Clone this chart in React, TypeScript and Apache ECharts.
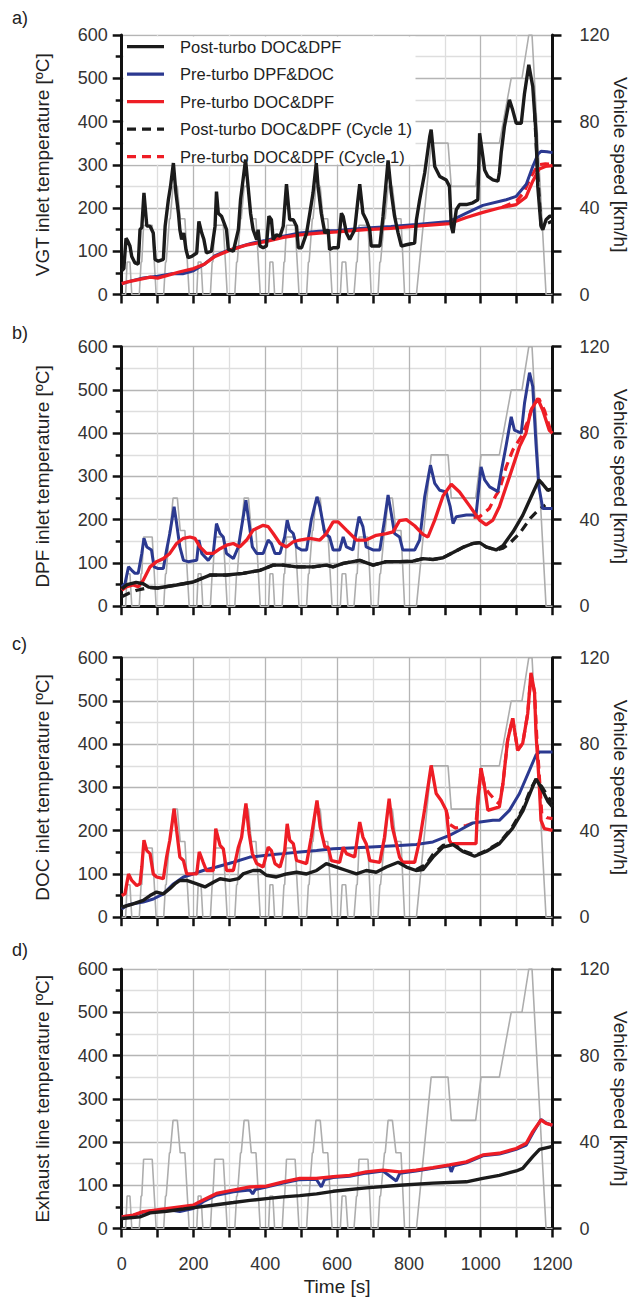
import React, { useEffect, useRef } from 'react';
import * as echarts from 'echarts';

const FONT = '"Liberation Sans", Arial, Helvetica, sans-serif';

// ---------- Vehicle speed (km/h) ----------
const speed: number[][] = [
  [0, 0], [11, 0], [15, 15], [23, 15], [28, 0], [49, 0], [54, 15], [56, 15], [61, 32], [85, 32], [96, 0],
  [117, 0], [122, 15], [124, 15], [133, 35], [135, 35], [143, 50], [155, 50], [163, 35], [176, 35], [188, 0],
  [209, 0], [213, 15], [221, 15], [226, 0], [247, 0], [252, 15], [254, 15], [259, 32], [283, 32], [294, 0],
  [315, 0], [320, 15], [322, 15], [331, 35], [333, 35], [341, 50], [353, 50], [361, 35], [374, 35], [386, 0],
  [409, 0], [413, 15], [421, 15], [426, 0], [447, 0], [452, 15], [454, 15], [459, 32], [483, 32], [494, 0],
  [515, 0], [520, 15], [522, 15], [531, 35], [533, 35], [541, 50], [553, 50], [561, 35], [574, 35], [586, 0],
  [609, 0], [614, 15], [624, 15], [630, 0], [647, 0], [654, 15], [656, 15], [661, 32], [686, 32], [695, 0],
  [714, 0], [719, 15], [721, 15], [732, 35], [734, 35], [742, 50], [754, 50], [764, 35], [778, 35], [788, 0],
  [821, 0], [862, 70], [909, 70], [918, 50], [986, 50], [1001, 70], [1052, 70], [1085, 100], [1115, 100],
  [1134, 120], [1143, 120], [1182, 0], [1200, 0],
];

// ---------- Panel a: VGT inlet ----------
const aPost: number[][] = [
  [0, 55], [6, 60], [12, 130], [16, 125], [23, 112], [28, 88], [37, 73], [46, 70], [51, 150], [56, 155], [62, 235],
  [70, 158], [79, 158], [88, 142], [93, 81], [102, 77], [116, 81], [121, 158], [130, 219], [136, 250], [144, 304],
  [151, 235], [158, 188], [162, 150], [167, 127], [173, 142], [179, 104], [185, 85], [195, 88], [209, 96], [215, 169],
  [223, 142], [229, 127], [236, 96], [250, 100], [260, 158], [264, 238], [269, 188], [278, 181], [292, 150], [297, 104],
  [311, 100], [325, 150], [331, 219], [338, 265], [345, 312], [352, 250], [359, 188], [366, 150], [376, 127], [380, 150],
  [385, 112], [394, 108], [403, 112], [410, 181], [417, 173], [422, 127], [431, 138], [441, 135], [450, 158], [459, 255],
  [468, 173], [478, 173], [487, 158], [492, 108], [501, 108], [515, 142], [524, 188], [533, 235], [542, 304], [547, 250],
  [556, 188], [566, 142], [575, 150], [579, 104], [589, 108], [603, 108], [612, 188], [617, 180], [626, 142], [635, 127],
  [649, 150], [658, 219], [663, 255], [672, 188], [681, 173], [691, 150], [695, 112], [719, 112], [728, 181], [742, 310],
  [751, 235], [760, 181], [770, 142], [779, 112], [793, 115], [816, 119], [821, 173], [830, 219], [844, 281], [858, 365],
  [862, 381], [872, 296], [886, 273], [904, 265], [913, 250], [918, 158], [923, 142], [932, 196], [941, 208], [960, 208],
  [978, 212], [992, 219], [997, 373], [1006, 319], [1011, 288], [1020, 273], [1034, 265], [1048, 262], [1052, 281],
  [1057, 327], [1066, 388], [1080, 450], [1089, 427], [1099, 396], [1113, 396], [1122, 465], [1134, 531], [1145, 481],
  [1154, 373], [1159, 250], [1168, 158], [1173, 150], [1182, 173], [1192, 181], [1200, 181],
];
const aDpfDoc: number[][] = [
  [0, 25], [30, 32], [60, 38], [100, 42], [140, 48], [170, 48], [200, 55], [230, 70], [260, 90], [290, 100], [320, 108],
  [360, 118], [400, 125], [450, 135], [496, 142], [550, 146], [600, 148], [681, 154], [750, 157], [821, 162], [913, 169],
  [960, 188], [1006, 206], [1071, 219], [1099, 227], [1127, 255], [1145, 296], [1160, 325], [1168, 331], [1185, 330],
  [1200, 328],
];
const aDocDpf: number[][] = [
  [0, 25], [20, 30], [50, 35], [80, 40], [100, 38], [130, 45], [160, 52], [200, 60], [230, 70], [260, 88], [300, 102],
  [350, 115], [400, 122], [450, 132], [496, 138], [550, 142], [600, 145], [681, 150], [750, 153], [821, 158], [913, 164],
  [960, 178], [1006, 190], [1052, 200], [1099, 208], [1126, 225], [1145, 262], [1163, 290], [1180, 296], [1200, 298],
];
const aPost1: number[][] = [[1150, 420], [1160, 262], [1168, 160], [1180, 162], [1200, 170]];
const aDocDpf1: number[][] = [
  [1060, 202], [1100, 216], [1120, 236], [1140, 272], [1160, 300], [1180, 302], [1200, 301],
];

// ---------- Panel b: DPF inlet ----------
const bPost: number[][] = [
  [0, 40], [15, 50], [40, 55], [60, 52], [75, 44], [100, 42], [153, 49], [199, 56], [246, 72], [292, 72], [338, 76],
  [385, 83], [422, 95], [450, 95], [487, 91], [533, 91], [570, 95], [589, 91], [617, 99], [663, 106], [700, 95],
  [737, 103], [774, 103], [811, 104], [839, 110], [867, 108], [895, 112], [923, 124], [950, 136], [978, 145], [997, 147],
  [1015, 137], [1043, 130], [1062, 140], [1090, 172], [1117, 210], [1145, 261], [1162, 292], [1173, 282], [1187, 268],
  [1200, 272],
];
const bDpfDoc: number[][] = [
  [0, 45], [9, 52], [19, 91], [28, 83], [37, 76], [46, 76], [56, 122], [62, 157], [70, 137], [83, 130], [90, 91],
  [102, 87], [116, 87], [125, 130], [134, 168], [146, 230], [153, 191], [162, 137], [172, 106], [185, 103], [209, 106],
  [215, 153], [223, 122], [241, 106], [255, 122], [264, 191], [274, 168], [283, 160], [292, 122], [311, 110], [325, 137],
  [331, 168], [346, 245], [355, 191], [364, 137], [376, 122], [394, 122], [408, 153], [417, 145], [427, 122], [441, 122],
  [454, 160], [461, 199], [468, 176], [478, 168], [487, 137], [501, 130], [515, 130], [528, 199], [544, 253], [552, 230],
  [566, 168], [579, 160], [589, 130], [607, 130], [617, 160], [626, 137], [644, 130], [661, 207], [672, 184], [681, 137],
  [700, 130], [719, 130], [732, 199], [742, 257], [751, 214], [760, 168], [774, 160], [783, 130], [816, 130], [830, 153],
  [844, 253], [860, 326], [872, 284], [886, 268], [904, 264], [915, 230], [923, 191], [932, 207], [960, 211], [987, 211],
  [1001, 322], [1011, 292], [1025, 276], [1048, 265], [1057, 310], [1071, 372], [1085, 438], [1094, 407], [1113, 400],
  [1122, 469], [1136, 540], [1145, 508], [1154, 376], [1162, 276], [1173, 226], [1200, 226],
];
const bDocDpf: number[][] = [
  [0, 37], [14, 45], [32, 49], [46, 45], [60, 60], [79, 91], [97, 103], [116, 110], [134, 122], [153, 145], [172, 157],
  [190, 160], [204, 157], [218, 137], [236, 122], [255, 122], [274, 133], [292, 141], [311, 145], [329, 137], [348, 153],
  [366, 176], [394, 187], [408, 184], [422, 168], [441, 145], [459, 137], [478, 149], [496, 153], [524, 157], [552, 153],
  [570, 168], [589, 195], [603, 195], [626, 176], [654, 153], [681, 153], [709, 164], [737, 168], [756, 172], [774, 198],
  [793, 200], [816, 186], [839, 166], [853, 160], [872, 199], [895, 255], [918, 282], [941, 264], [969, 232], [997, 199],
  [1015, 188], [1034, 199], [1052, 230], [1080, 299], [1108, 369], [1126, 400], [1140, 453], [1159, 480], [1173, 453],
  [1191, 407], [1200, 400],
];
const bPost1: number[][] = [
  [0, 22], [20, 30], [42, 37], [75, 43], [100, 42], [153, 49], [199, 56], [246, 72], [292, 72], [338, 76], [385, 83],
  [422, 95], [450, 95], [487, 91], [533, 91], [570, 95], [589, 91], [617, 99], [663, 106], [700, 95], [737, 103],
  [774, 103], [811, 104], [839, 110], [867, 108], [895, 112], [923, 124], [950, 136], [978, 145], [997, 147], [1015, 137],
  [1043, 130], [1062, 134], [1080, 145], [1108, 168], [1140, 205], [1160, 222], [1180, 234],
];
const bDocDpf1: number[][] = [
  [980, 205], [997, 207], [1024, 226], [1043, 257], [1052, 268], [1071, 322], [1090, 362], [1113, 392], [1130, 425],
  [1145, 462], [1162, 480], [1178, 452], [1195, 405],
];

// ---------- Panel c: DOC inlet ----------
const cPost: number[][] = [
  [0, 23], [32, 31], [60, 39], [79, 50], [97, 58], [116, 54], [134, 66], [148, 77], [162, 85], [181, 85], [209, 77],
  [232, 70], [255, 81], [274, 89], [301, 85], [325, 89], [338, 100], [366, 108], [385, 108], [403, 97], [431, 93],
  [459, 100], [487, 104], [515, 100], [543, 108], [570, 124], [598, 116], [626, 108], [654, 100], [681, 108], [709, 104],
  [737, 116], [770, 127], [793, 116], [820, 108], [839, 110], [867, 139], [895, 162], [923, 168], [950, 152], [983, 141],
  [1015, 152], [1052, 170], [1089, 206], [1117, 245], [1140, 292], [1154, 320], [1168, 300], [1187, 268], [1200, 255],
];
const cDpfDoc: number[][] = [
  [0, 19], [14, 27], [32, 31], [60, 35], [88, 42], [116, 54], [144, 77], [172, 93], [199, 100], [227, 108], [264, 116],
  [311, 127], [357, 139], [403, 143], [450, 147], [496, 151], [543, 154], [589, 158], [681, 162], [774, 166], [820, 168],
  [867, 174], [913, 189], [941, 201], [978, 218], [1034, 224], [1052, 224], [1080, 247], [1108, 286], [1136, 340],
  [1154, 375], [1164, 382], [1200, 382],
];
const cDocDpf: number[][] = [
  [0, 50], [9, 54], [19, 100], [28, 85], [42, 73], [51, 77], [56, 116], [62, 178], [70, 154], [79, 147], [88, 100],
  [97, 93], [116, 89], [125, 139], [134, 178], [146, 251], [153, 201], [162, 139], [172, 131], [181, 100], [209, 100],
  [216, 151], [227, 127], [236, 108], [255, 108], [262, 205], [274, 166], [283, 158], [292, 108], [311, 108], [325, 162],
  [334, 185], [346, 263], [355, 193], [364, 147], [376, 124], [394, 116], [408, 162], [417, 154], [427, 124], [441, 116],
  [454, 154], [461, 216], [468, 178], [478, 170], [487, 131], [515, 124], [528, 185], [544, 270], [553, 208], [566, 162],
  [575, 162], [584, 131], [607, 127], [617, 162], [626, 147], [649, 139], [663, 220], [672, 185], [681, 170], [691, 131],
  [719, 127], [732, 185], [745, 274], [754, 208], [765, 170], [774, 139], [783, 127], [816, 127], [830, 178], [844, 250],
  [862, 351], [876, 286], [890, 270], [904, 247], [913, 178], [918, 170], [960, 170], [987, 170], [992, 270], [1001, 344],
  [1011, 301], [1020, 247], [1052, 255], [1062, 309], [1075, 409], [1089, 460], [1103, 386], [1117, 402], [1131, 471],
  [1140, 565], [1150, 520], [1154, 425], [1163, 309], [1168, 224], [1177, 205], [1200, 201],
];
const cPost1: number[][] = [
  [820, 110], [848, 122], [867, 145], [895, 166], [923, 170], [950, 154], [987, 143], [1015, 154], [1052, 172],
  [1089, 210], [1117, 250], [1140, 298], [1154, 318], [1170, 302], [1190, 275], [1200, 265],
];
const cDocDpf1: number[][] = [
  [904, 247], [913, 215], [930, 206], [960, 212], [987, 220], [1001, 344], [1011, 300], [1024, 286], [1043, 268],
  [1052, 262], [1062, 309], [1075, 409], [1089, 460], [1103, 386], [1117, 402], [1131, 471], [1140, 560], [1150, 520],
  [1156, 420], [1163, 330], [1170, 240], [1185, 230], [1200, 228],
];

// ---------- Panel d: Exhaust line ----------
const dPost: number[][] = [
  [0, 23], [51, 27], [79, 36], [125, 40], [172, 45], [218, 50], [264, 55], [311, 60], [357, 65], [403, 69], [450, 73],
  [496, 76], [543, 80], [589, 86], [681, 94], [774, 100], [867, 105], [960, 108], [1006, 116], [1052, 123], [1099, 133],
  [1117, 139], [1145, 166], [1164, 183], [1200, 190],
];
const dDpfDoc: number[][] = [
  [0, 27], [32, 30], [60, 38], [88, 41], [125, 44], [162, 39], [199, 46], [227, 62], [264, 77], [311, 85], [357, 89],
  [365, 80], [372, 90], [403, 96], [450, 105], [496, 113], [542, 114], [556, 96], [565, 113], [589, 118], [635, 121],
  [681, 128], [728, 133], [765, 110], [775, 128], [820, 133], [867, 139], [913, 145], [918, 131], [925, 145], [960, 152],
  [1006, 168], [1052, 172], [1099, 183], [1127, 193], [1145, 220], [1168, 252], [1182, 244], [1200, 238],
];
const dDocDpf: number[][] = [
  [0, 27], [32, 31], [60, 39], [88, 42], [125, 46], [162, 50], [199, 54], [227, 66], [264, 81], [311, 89], [357, 96],
  [403, 98], [450, 108], [496, 116], [542, 116], [589, 120], [635, 123], [681, 131], [728, 135], [774, 131], [820, 135],
  [867, 141], [913, 147], [960, 154], [1006, 170], [1052, 174], [1099, 185], [1127, 197], [1145, 224], [1168, 251],
  [1182, 243], [1200, 239],
];

const NAMES = [
  'Post-turbo DOC&DPF',
  'Pre-turbo DPF&DOC',
  'Pre-turbo DOC&DPF',
  'Post-turbo DOC&DPF (Cycle 1)',
  'Pre-turbo DOC&DPF (Cycle 1)',
];
const PANEL_LABELS = ['a)', 'b)', 'c)', 'd)'];
const LEFT_NAMES = [
  'VGT inlet temperature [ºC]',
  'DPF inlet temperature [ºC]',
  'DOC inlet temperature [ºC]',
  'Exhaust line temperature [ºC]',
];
const RIGHT_NAME = 'Vehicle speed [km/h]';
const X_NAME = 'Time [s]';

const panels = [
  { post: aPost, dpfdoc: aDpfDoc, docdpf: aDocDpf, post1: aPost1, docdpf1: aDocDpf1 },
  { post: bPost, dpfdoc: bDpfDoc, docdpf: bDocDpf, post1: bPost1, docdpf1: bDocDpf1 },
  { post: cPost, dpfdoc: cDpfDoc, docdpf: cDocDpf, post1: cPost1, docdpf1: cDocDpf1 },
  { post: dPost, dpfdoc: dDpfDoc, docdpf: dDocDpf, post1: null, docdpf1: null },
];

const BLACK = '#1b1b1b';
const BLUE = '#2b3990';
const RED = '#ee1d25';
const GRAY = '#adadad';
const AXIS = '#111111';
const MAJOR_GRID = '#b5b5b5';
const MINOR_GRID = '#dedede';
const DASH = [9, 6];

const LEGEND_COLORS = [BLACK, BLUE, RED, BLACK, RED];
const LEGEND_DASHED = [false, false, false, true, true];

const GRID_TOPS = [35, 346.7, 657.7, 969];
const GRID_H = 259.5;
const GRID_LEFT = 121.7;
const GRID_RIGHTX = 552.5;
const LABEL_Y = [17.5, 333, 644, 950];

export default function App() {
  const ref = useRef<HTMLDivElement>(null);
  useEffect(() => {
    document.body.style.margin = '0';
    const chart = echarts.init(ref.current!, null, { renderer: 'svg' });

    const grid: any[] = [];
    const xAxis: any[] = [];
    const yAxis: any[] = [];
    const series: any[] = [];
    const graphic: any[] = [];

    panels.forEach((p, i) => {
      grid.push({
        left: GRID_LEFT,
        width: GRID_RIGHTX - GRID_LEFT,
        top: GRID_TOPS[i],
        height: GRID_H,
        containLabel: false,
      });
      xAxis.push({
        type: 'value',
        gridIndex: i,
        min: 0,
        max: 1200,
        interval: 200,
        axisLine: { show: true, onZero: false, lineStyle: { color: AXIS, width: 3 } },
        axisTick: { show: true, length: 9, lineStyle: { color: AXIS, width: 2.5 } },
        minorTick: { show: true, splitNumber: 2, length: 9, lineStyle: { color: AXIS, width: 2.5 } },
        splitLine: { show: true, lineStyle: { color: MAJOR_GRID, width: 1.3 } },
        minorSplitLine: { show: true, lineStyle: { color: MINOR_GRID, width: 1.3 } },
        axisLabel: {
          show: i === 3,
          margin: 26,
          fontSize: 18,
          color: '#333',
          fontFamily: FONT,
          formatter: (v: number) => String(v),
        },
      });
      yAxis.push({
        type: 'value',
        gridIndex: i,
        position: 'left',
        min: 0,
        max: 600,
        interval: 100,
        axisLine: { show: true, lineStyle: { color: AXIS, width: 3 } },
        axisTick: { show: true, length: 9, lineStyle: { color: AXIS, width: 2.5 } },
        minorTick: { show: true, splitNumber: 2, length: 6, lineStyle: { color: AXIS, width: 2.5 } },
        splitLine: { show: true, lineStyle: { color: MAJOR_GRID, width: 1.3 } },
        minorSplitLine: { show: true, lineStyle: { color: MINOR_GRID, width: 1.3 } },
        axisLabel: { margin: 14, fontSize: 18, color: '#333', fontFamily: FONT, formatter: (v: number) => String(v) },
      });
      yAxis.push({
        type: 'value',
        gridIndex: i,
        position: 'right',
        min: 0,
        max: 120,
        interval: 20,
        axisLine: { show: true, lineStyle: { color: AXIS, width: 3 } },
        axisTick: { show: true, length: 9, lineStyle: { color: AXIS, width: 2.5 } },
        splitLine: { show: false },
        axisLabel: {
          margin: 27,
          fontSize: 18,
          color: '#333',
          fontFamily: FONT,
          formatter: (v: number) => (v % 40 === 0 ? String(v) : ''),
        },
      });

      const base = { type: 'line', xAxisIndex: i, yAxisIndex: 2 * i, symbol: 'none', showSymbol: false, silent: true };
      series.push({
        ...base,
        name: 'Vehicle speed',
        yAxisIndex: 2 * i + 1,
        data: speed,
        color: GRAY,
        lineStyle: { color: GRAY, width: 1.6 },
      });
      if (p.post1) {
        series.push({
          ...base,
          name: NAMES[3],
          data: p.post1,
          color: BLACK,
          lineStyle: { color: BLACK, width: 3.2, type: DASH },
        });
      }
      if (p.docdpf1) {
        series.push({
          ...base,
          name: NAMES[4],
          data: p.docdpf1,
          color: RED,
          lineStyle: { color: RED, width: 3.2, type: DASH },
        });
      }
      series.push({
        ...base,
        name: NAMES[1],
        data: p.dpfdoc,
        color: BLUE,
        lineStyle: { color: BLUE, width: 3 },
      });
      series.push({
        ...base,
        name: NAMES[2],
        data: p.docdpf,
        color: RED,
        lineStyle: { color: RED, width: 3.3 },
      });
      series.push({
        ...base,
        name: NAMES[0],
        data: p.post,
        color: BLACK,
        lineStyle: { color: BLACK, width: 3.4 },
      });

      const cy = GRID_TOPS[i] + GRID_H / 2;
      graphic.push({
        type: 'text',
        x: 12,
        y: LABEL_Y[i],
        style: {
          text: PANEL_LABELS[i],
          font: `18px ${FONT}`,
          fill: '#222',
          textAlign: 'left',
          textVerticalAlign: 'middle',
          align: 'left',
          verticalAlign: 'middle',
        },
      });
      graphic.push({
        type: 'text',
        x: 42,
        y: cy,
        rotation: Math.PI / 2,
        style: {
          text: LEFT_NAMES[i],
          font: `19px ${FONT}`,
          fill: '#222',
          textAlign: 'center',
          textVerticalAlign: 'middle',
          align: 'center',
          verticalAlign: 'middle',
        },
      });
      graphic.push({
        type: 'text',
        x: 620,
        y: cy,
        rotation: -Math.PI / 2,
        style: {
          text: RIGHT_NAME,
          font: `19px ${FONT}`,
          fill: '#222',
          textAlign: 'center',
          textVerticalAlign: 'middle',
          align: 'center',
          verticalAlign: 'middle',
        },
      });
    });

    graphic.push({
      type: 'text',
      x: (GRID_LEFT + GRID_RIGHTX) / 2,
      y: 1286,
      style: {
        text: X_NAME,
        font: `19px ${FONT}`,
        fill: '#222',
        textAlign: 'center',
        textVerticalAlign: 'middle',
        align: 'center',
        verticalAlign: 'middle',
      },
    });

    // Legend (drawn manually: white box, line samples, labels)
    graphic.push({
      type: 'rect',
      z: 1,
      shape: { x: 123.5, y: 36.5, width: 292, height: 128 },
      style: { fill: '#ffffff' },
      silent: true,
    });
    NAMES.forEach((name, k) => {
      const y = 46.7 + 27.5 * k;
      graphic.push({
        type: 'line',
        z: 10,
        shape: { x1: 127, y1: y, x2: 164, y2: y },
        style: {
          stroke: LEGEND_COLORS[k],
          lineWidth: 3.2,
          lineDash: LEGEND_DASHED[k] ? DASH : null,
        },
        silent: true,
      });
      graphic.push({
        type: 'text',
        z: 10,
        x: 180,
        y,
        style: {
          text: name,
          font: `16.5px ${FONT}`,
          fill: '#222',
          textAlign: 'left',
          textVerticalAlign: 'middle',
          align: 'left',
          verticalAlign: 'middle',
        },
        silent: true,
      });
    });

    chart.setOption({
      animation: false,
      backgroundColor: '#ffffff',
      textStyle: { fontFamily: FONT },
      grid,
      xAxis,
      yAxis,
      series,
      graphic,
    });

    return () => chart.dispose();
  }, []);
  return <div ref={ref} style={{ width: 635, height: 1303 }} />;
}
